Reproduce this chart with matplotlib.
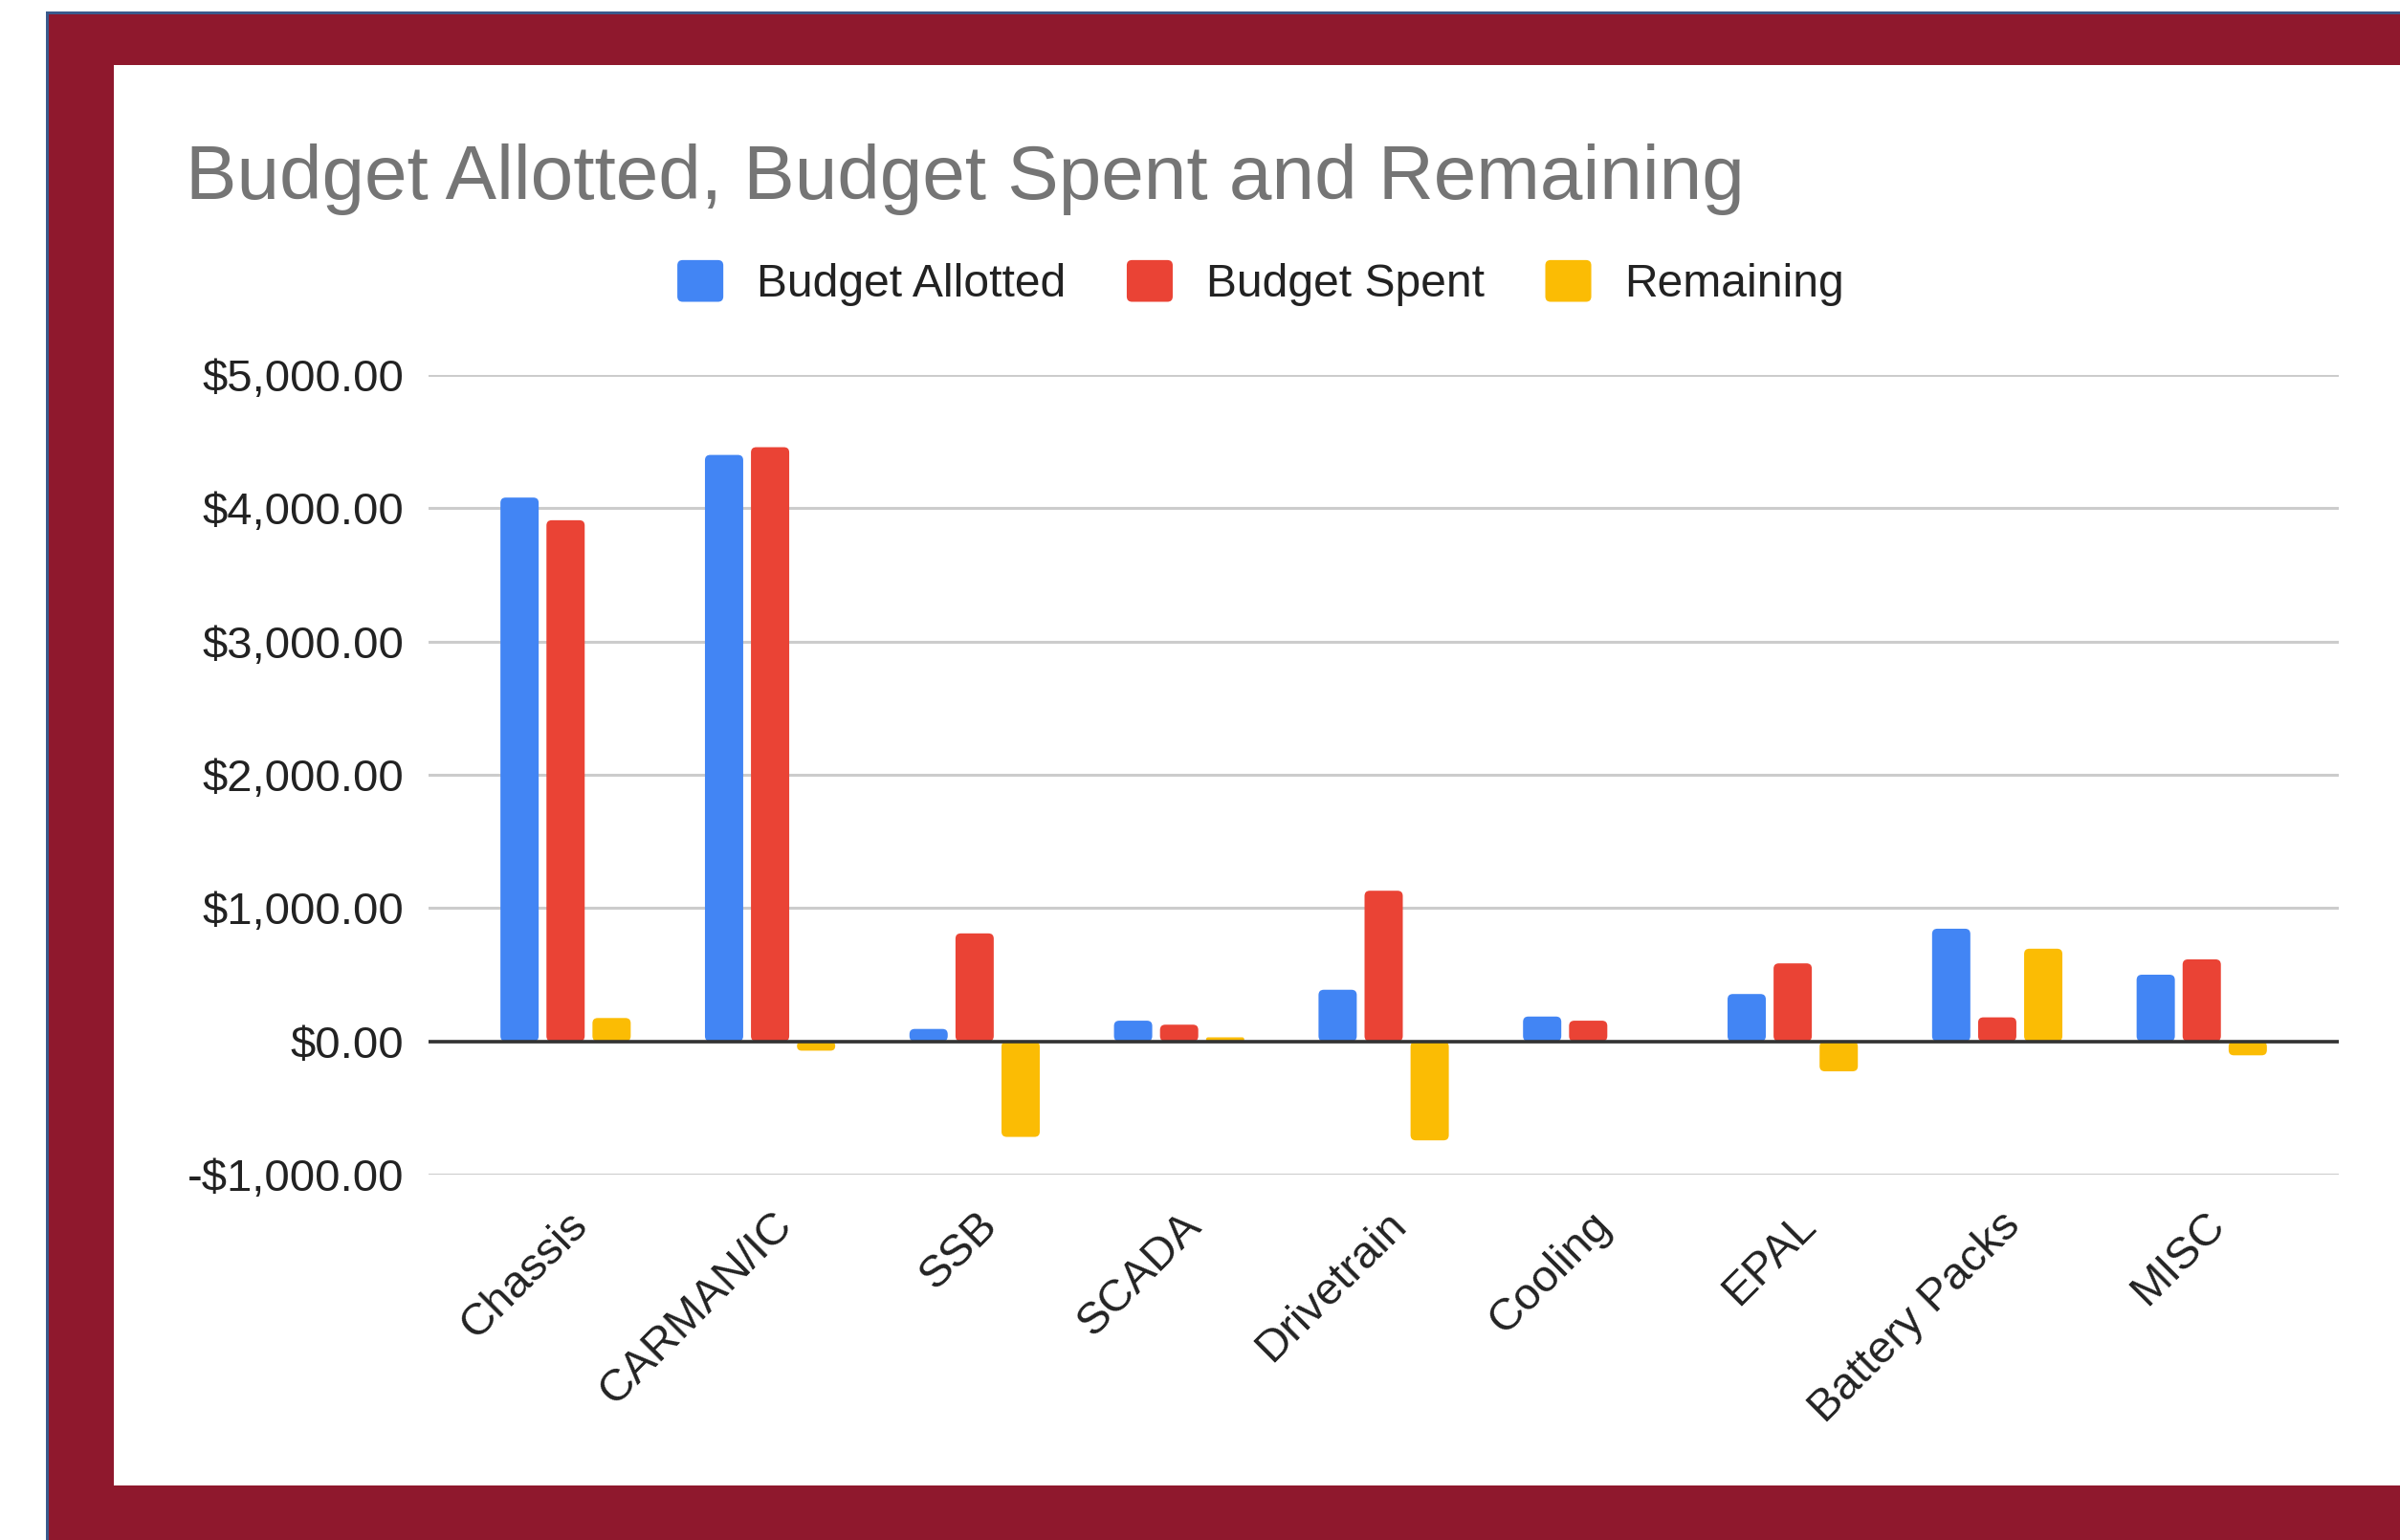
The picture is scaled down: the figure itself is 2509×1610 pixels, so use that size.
import numpy as np
import matplotlib
matplotlib.use("Agg")
import matplotlib.pyplot as plt
from matplotlib.patches import Rectangle, FancyBboxPatch, Patch
from matplotlib.legend_handler import HandlerPatch
from matplotlib.ticker import FuncFormatter
import matplotlib.transforms as mtransforms

plt.rcParams.update({'font.family': ['Liberation Sans', 'DejaVu Sans']})

categories = ["Chassis", "CARMAN/IC", "SSB", "SCADA", "Drivetrain",
              "Cooling", "EPAL", "Battery Packs", "MISC"]
allotted = [4080, 4400, 93, 155, 387, 186, 355, 845, 500]
spent = [3910, 4458, 810, 125, 1130, 155, 585, 180, 615]
remaining = [175, -70, -717, 30, -743, 0, -225, 695, -105]
series_names = ["Budget Allotted", "Budget Spent", "Remaining"]

BLUE = "#4285F4"; RED = "#EA4335"; YELLOW = "#FBBC04"
CRIMSON = "#8F182D"; EDGE = "#3A5A8C"

W, H = 2509, 1610
fig = plt.figure(figsize=(W / 100, H / 100), dpi=100)
fig.patch.set_facecolor('white')

# maroon frame around the chart card
fig.patches.append(Rectangle((48 / W, 0), 1, (H - 12) / H, transform=fig.transFigure,
                             facecolor=EDGE, edgecolor='none', zorder=-10))
fig.patches.append(Rectangle((51 / W, 0), 1, (H - 15) / H, transform=fig.transFigure,
                             facecolor=CRIMSON, edgecolor='none', zorder=-9))
fig.patches.append(Rectangle((119 / W, (H - 1553) / H), 1, (1553 - 68) / H,
                             transform=fig.transFigure, facecolor='white',
                             edgecolor='none', zorder=-8))

left, right, top, bottom = 448, 2445, 392, 1228
ax = fig.add_axes([left / W, 1 - bottom / H, (right - left) / W, (bottom - top) / H])
ax.set_facecolor('none')
ax.set_zorder(1)

x = np.arange(len(categories))
bw = 0.187
step = 0.225
ax.set_xlim(-0.67, len(categories) - 1 + 0.67)
ax.set_ylim(-1000, 5000)

bars = []
for k, (vals, col) in enumerate(zip([allotted, spent, remaining], [BLUE, RED, YELLOW])):
    bars.append(ax.bar(x + (k - 1) * step, vals, width=bw, color=col, zorder=3))

# swap plain rectangles for ones with softly rounded corners
fig.canvas.draw()
px_x = ax.transData.transform([(1, 0)])[0][0] - ax.transData.transform([(0, 0)])[0][0]
px_y = ax.transData.transform([(0, 1000)])[0][1] - ax.transData.transform([(0, 0)])[0][1]
aspect = (1000 / px_y) / (1 / px_x)
for cont in bars:
    for r in cont.patches:
        x0, y0, w, h = r.get_x(), r.get_y(), r.get_width(), r.get_height()
        if h < 0:
            y0, h = y0 + h, -h
        r.set_visible(False)
        if h == 0:
            continue
        rad_px = min(5.5, h * px_y / 1000 / 2, w * px_x / 2)
        p = FancyBboxPatch((x0, y0), w, h,
                           boxstyle=f"round,pad=0,rounding_size={rad_px / px_x}",
                           mutation_aspect=aspect, facecolor=r.get_facecolor(),
                           edgecolor='none', zorder=3)
        ax.add_patch(p)

ax.set_yticks(np.arange(-1000, 5001, 1000))
ax.yaxis.set_major_formatter(FuncFormatter(
    lambda v, _: f"-${abs(v):,.2f}" if v < 0 else f"${v:,.2f}"))
ax.grid(axis='y', color='#cccccc', lw=2.2, zorder=1)
ax.set_axisbelow(True)
ax.axhline(0, color='#333333', lw=2.6, zorder=4)
for s in ax.spines.values():
    s.set_visible(False)
ax.tick_params(axis='y', length=0, pad=18.5, labelsize=34, labelcolor='#222222')
ax.tick_params(axis='x', length=0, pad=34, labelsize=34, labelcolor='#222222')
ax.set_xticks(x)
ax.set_xticklabels(categories, rotation=45, ha='right', va='center',
                   rotation_mode='anchor')
shift = mtransforms.ScaledTranslation(17 / 100, 1 / 100, fig.dpi_scale_trans)
for lab in ax.get_xticklabels():
    lab.set_transform(lab.get_transform() + shift)

fig.text(194 / W, 1 - 208 / H, "Budget Allotted, Budget Spent and Remaining",
         fontsize=57.7, color='#757575', ha='left', va='baseline')


def rounded_handle(legend, orig_handle, xdescent, ydescent, width, height, fontsize):
    return FancyBboxPatch((-xdescent, -ydescent), width, height,
                          boxstyle="round,pad=0,rounding_size=4")


handles = [Patch(facecolor=c, edgecolor='none') for c in [BLUE, RED, YELLOW]]
fig.legend(handles, series_names, loc='center', bbox_to_anchor=(1318 / W, 1 - 296 / H),
           ncol=3, frameon=False, fontsize=34.6, handlelength=1.0, handleheight=1.02,
           handletextpad=0.72, columnspacing=1.33, labelcolor='#222222',
           handler_map={Patch: HandlerPatch(patch_func=rounded_handle)})

fig.savefig("out.png", dpi=100, facecolor='white')
